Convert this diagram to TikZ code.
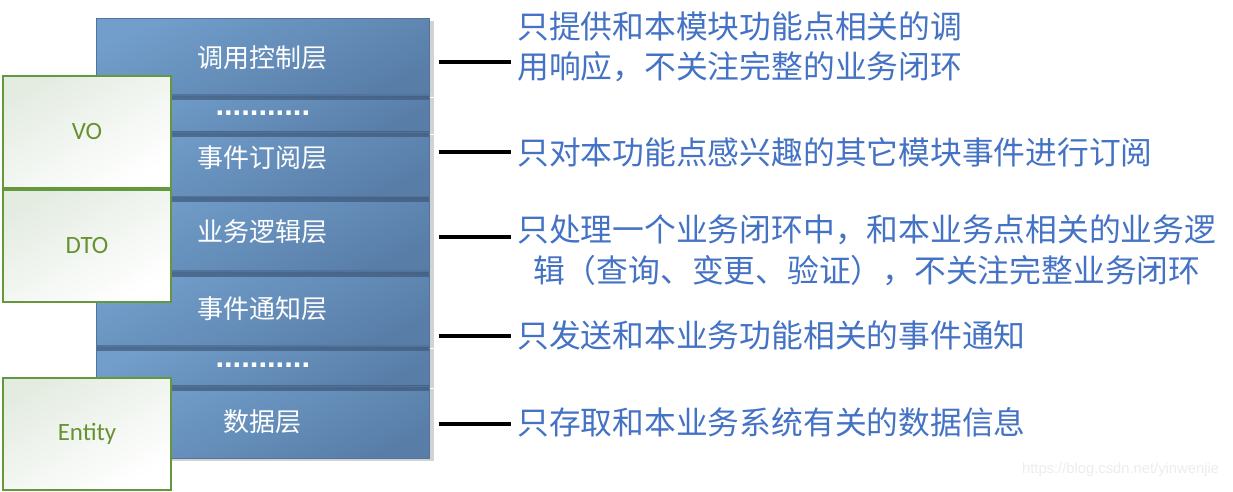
\documentclass[tikz,border=0pt]{standalone}
\usepackage{fontspec}
\usepackage{xcolor}
\usetikzlibrary{positioning,shadows}
\newfontfamily\cjkfont{Noto Sans CJK SC}
\newfontfamily\calfont{Carlito}
\newfontfamily\wmfont{Liberation Sans}
\definecolor{lyrlight}{RGB}{114,158,203}
\definecolor{lyrdark}{RGB}{88,126,168}
\definecolor{lyredge}{RGB}{58,84,116}
\definecolor{lyrline}{RGB}{82,116,156}
\definecolor{voline}{RGB}{100,152,60}
\definecolor{votext}{RGB}{104,146,50}
\definecolor{votop}{RGB}{228,236,226}
\definecolor{notetext}{RGB}{68,114,196}
\tikzset{
  lyr/.style={rectangle, draw=lyrline, line width=0.4pt, top color=lyrlight, bottom color=lyrdark,
              shading angle=25, minimum width=8.325cm, minimum height=#1, inner sep=0pt,
              text=white, font=\cjkfont\fontsize{18.5}{20}\selectfont,
              drop shadow={shadow xshift=3pt, shadow yshift=-2pt, opacity=0.35},
              path picture={\shade[top color=lyredge, bottom color=lyrlight, opacity=0.7]
                (path picture bounding box.north west) rectangle ([yshift=-0.12cm]path picture bounding box.north east);}},
  lyr/.default=1.855cm,
  topband/.style={path picture={}},
  gapdots/.style={font=\wmfont\bfseries\fontsize{22}{22}\selectfont},
  objbox/.style={rectangle, draw=voline, line width=1.3pt, top color=votop, bottom color=white,
                 shading angle=30, minimum width=4.2cm, minimum height=2.8cm, inner sep=0pt,
                 text=votext, font=\calfont\fontsize{17.7}{20}\selectfont},
  note/.style={align=center, inner sep=0pt, text=notetext, font=\cjkfont\fontsize{22.6}{29}\selectfont},
  link/.style={line width=2.8pt, black, shorten <=0.225cm},
}
\begin{document}
\begin{tikzpicture}

\fill[white] (0,0) rectangle (30.825,-12.3);
\useasboundingbox (0,0) rectangle (30.825,-12.3);

% layer stack
\node[lyr=1.905cm, topband, text depth=0pt, anchor=north west] (ctl) at (2.4,-0.45) {调用控制层};
\node[lyr=0.905cm, gapdots, below=0pt of ctl] (gap1) {...........};
\node[lyr=1.605cm, text depth=11pt, below=0pt of gap1] (sub) {事件订阅层};
\node[lyr, text depth=5pt, below=0pt of sub] (biz) {业务逻辑层};
\node[lyr, below=0pt of biz] (ntf) {事件通知层};
\node[lyr=0.98cm, gapdots, below=0pt of ntf] (gap2) {...........};
\node[lyr=1.805cm, below=0pt of gap2] (data) {数据层};

% object boxes
\node[objbox] (vo) at (2.175,-3.3) {VO};
\node[objbox, below=0pt of vo] (dto) {DTO};
\node[objbox] (ent) at (2.175,-10.84) {Entity};

% notes
\node[note, anchor=west] (n1) at (12.925,-1.17) {只提供和本模块功能点相关的调\\用响应，不关注完整的业务闭环};
\node[note, anchor=west] (n2) at (12.925,-3.8) {只对本功能点感兴趣的其它模块事件进行订阅};
\node[note, anchor=west] (n3) at (12.925,-6.25) {只处理一个业务闭环中，和本业务点相关的业务逻\\辑（查询、变更、验证），不关注完整业务闭环};
\node[note, anchor=west] (n4) at (12.925,-8.375) {只发送和本业务功能相关的事件通知};
\node[note, anchor=west] (n5) at (12.925,-10.55) {只存取和本业务系统有关的数据信息};

% connectors
\coordinate (k1) at (12.775,-1.55);
\coordinate (k2) at (12.775,-3.8);
\coordinate (k3) at (12.775,-5.925);
\coordinate (k4) at (12.775,-8.4);
\coordinate (k5) at (12.775,-10.6);
\draw[link] (ctl.east |- k1) -- (k1);
\draw[link] (sub.east |- k2) -- (k2);
\draw[link] (biz.east |- k3) -- (k3);
\draw[link] (ntf.east |- k4) -- (k4);
\draw[link] (data.east |- k5) -- (k5);

\node[anchor=east, text=gray!14, font=\wmfont\fontsize{10.5}{12}\selectfont] (wm) at (30.6,-11.75) {https://blog.csdn.net/yinwenjie};

\end{tikzpicture}
\end{document}
